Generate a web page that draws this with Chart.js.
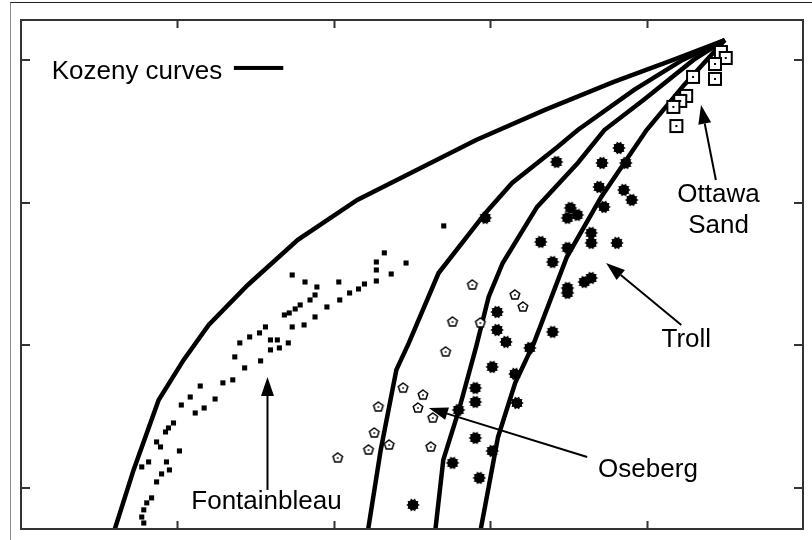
<!DOCTYPE html>
<html>
<head>
<meta charset="utf-8">
<script src="https://cdn.jsdelivr.net/npm/chart.js@4/dist/chart.umd.min.js"></script>
<style>
  html, body { margin: 0; padding: 0; background: #fff; }
  #wrap { position: relative; width: 812px; height: 540px; overflow: hidden; }
  #frame { position: absolute; left: 10px; top: 2px; width: 802px; height: 538px;
           border-left: 1px solid #8a8a8a; border-top: 1px solid #222; box-sizing: border-box; }
  #plot { position: absolute; left: 0; top: 0; }
</style>
</head>
<body>
<div id="wrap">
  <div id="frame"></div>
  <canvas id="plot" width="812" height="540"></canvas>
</div>
<script>
// ─── DATA ───────────────────────────────────────────────
// axis ranges / ticks (ticks only, no labels in the picture)
const xRange = [0, 0.5];
const yRange = [0.713, 4.28];
const xTicks = [0.1, 0.2, 0.3, 0.4];
const yTicks = [1, 2, 3, 4];

// Kozeny curves, [x, y]
const kozeny1 = [[0.060,0.713],[0.072,1.127],[0.088,1.617],[0.104,1.898],[0.120,2.143],[0.145,2.423],
  [0.177,2.739],[0.215,3.019],[0.253,3.229],[0.291,3.439],[0.335,3.650],[0.379,3.846],[0.417,4.000],[0.450,4.140]];
const kozeny2 = [[0.222,0.713],[0.230,1.267],[0.240,1.828],[0.248,2.017],[0.267,2.507],[0.297,2.928],
  [0.314,3.138],[0.343,3.390],[0.356,3.509],[0.392,3.790],[0.423,4.000],[0.450,4.140]];
const kozeny3 = [[0.265,0.713],[0.270,1.197],[0.280,1.547],[0.291,1.989],[0.299,2.339],[0.308,2.577],
  [0.330,2.970],[0.356,3.278],[0.373,3.509],[0.398,3.720],[0.430,4.000],[0.450,4.140]];
const kozeny4 = [[0.294,0.713],[0.305,1.358],[0.316,1.737],[0.328,2.017],[0.349,2.619],[0.371,3.040],
  [0.387,3.299],[0.400,3.509],[0.424,3.825],[0.450,4.140]];

const fontainebleau = [[0.1734,2.493],[0.1816,2.444],[0.1892,2.409],[0.1880,2.353],[0.1848,2.318],[0.1785,2.283],
  [0.1753,2.255],[0.1715,2.227],[0.1684,2.213],[0.2032,2.444],[0.2101,2.367],[0.2158,2.395],[0.2196,2.430],
  [0.2272,2.451],[0.2272,2.528],[0.2272,2.584],[0.2323,2.648],[0.2367,2.500],[0.2462,2.577],[0.2038,2.318],
  [0.1956,2.269],[0.1880,2.199],[0.1810,2.143],[0.1734,2.129],[0.1563,2.129],[0.1525,2.087],[0.1462,2.059],
  [0.1399,2.017],[0.1367,1.919],[0.1430,1.842],[0.1532,1.891],[0.1595,1.968],[0.1595,2.038],[0.1639,2.038],
  [0.1652,1.982],[0.1709,2.017],[0.1291,1.737],[0.1354,1.758],[0.1146,1.715],[0.1082,1.638],[0.1241,1.624],
  [0.1025,1.582],[0.1171,1.561],[0.1114,1.526],[0.0975,1.456],[0.0943,1.421],[0.0924,1.393],[0.0867,1.323],
  [0.0892,1.288],[0.1013,1.260],[0.0816,1.183],[0.0772,1.148],[0.0930,1.183],[0.0949,1.127],[0.0899,1.099],
  [0.0867,1.043],[0.0835,0.931],[0.0804,0.896],[0.0785,0.847],[0.0772,0.797],[0.0785,0.755],[0.2703,2.837]];

const oseberg = [[0.2886,2.423],[0.3158,2.353],[0.3209,2.269],[0.2759,2.164],[0.2937,2.157],[0.2715,1.954],
  [0.2443,1.701],[0.2570,1.652],[0.2285,1.568],[0.2538,1.561],[0.2633,1.491],[0.2259,1.386],[0.2354,1.302],
  [0.2222,1.267],[0.2620,1.288],[0.2025,1.211]];

const troll = [[0.3424,3.285],[0.3823,3.383],[0.3715,3.278],[0.3867,3.278],[0.3696,3.110],[0.3854,3.089],
  [0.3905,3.019],[0.3728,2.970],[0.3513,2.963],[0.3557,2.914],[0.3494,2.893],[0.3646,2.788],[0.3646,2.718],
  [0.3810,2.718],[0.3323,2.725],[0.3494,2.683],[0.3399,2.584],[0.3646,2.472],[0.3601,2.444],[0.3494,2.402],
  [0.3494,2.367],[0.2968,2.893],[0.3044,2.234],[0.3044,2.108],[0.3101,2.024],[0.3399,2.094],[0.3253,1.982],
  [0.3013,1.849],[0.3158,1.800],[0.2905,1.701],[0.2905,1.603],[0.3171,1.596],[0.2797,1.547],[0.2905,1.351],
  [0.3013,1.260],[0.2759,1.176],[0.2930,1.071],[0.2506,0.882]];

const ottawa = [[0.4475,4.056],[0.4506,4.014],[0.4437,3.972],[0.4297,3.881],[0.4437,3.867],[0.4253,3.748],
  [0.4215,3.713],[0.4171,3.671],[0.4190,3.537]];

// annotations: text and arrows (data units)
const noteTexts = [
  ['Kozeny curves', 0.0196, 3.867],
  ['Ottawa', 0.4196, 3.005],
  ['Sand', 0.4266, 2.788],
  ['Troll', 0.4095, 1.989],
  ['Oseberg', 0.3690, 1.078],
  ['Fontainbleau', 0.1089, 0.854]
];
// [tailX, tailY, tipX, tipY]
const noteArrows = [
  [0.1576, 0.987, 0.1576, 1.779],
  [0.4443, 3.159, 0.4348, 3.685],
  [0.4222, 2.143, 0.3741, 2.577],
  [0.3620, 1.218, 0.2608, 1.561]
];
const legendBar = [0.1361, 0.1677, 3.944];

// ─── MARKERS ────────────────────────────────────────────
function makeMark(size, draw) {
    const c = document.createElement('canvas');
    c.width = c.height = size;
    draw(c.getContext('2d'), size / 2);
    return c;
}

const squareMark = makeMark(16, (g, c) => {
    g.fillStyle = '#fff';
    g.fillRect(2, 2, 12, 12);
    g.strokeStyle = '#000';
    g.lineWidth = 2;
    g.strokeRect(2, 2, 12, 12);
    g.fillStyle = '#000';
    g.fillRect(c - 1, c - 1, 2, 2);
});

const pentMark = makeMark(14, (g, c) => {
    g.beginPath();
    for (let i = 0; i < 5; i++) {
        const a = -Math.PI / 2 + i * 2 * Math.PI / 5;
        g.lineTo(c + 5 * Math.cos(a), c + 5 * Math.sin(a));
    }
    g.closePath();
    g.fillStyle = '#fff';
    g.fill();
    g.strokeStyle = '#000';
    g.lineWidth = 1.5;
    g.stroke();
    g.fillStyle = '#000';
    g.fillRect(c - 0.8, c - 0.8, 1.6, 1.6);
});

const blobMark = makeMark(16, (g, c) => {
    g.fillStyle = '#000';
    g.beginPath();
    g.arc(c, c, 5.3, 0, Math.PI * 2);
    g.fill();
    for (let i = 0; i < 10; i++) {
        const a = i * Math.PI / 5;
        g.beginPath();
        g.moveTo(c + 6.8 * Math.cos(a), c + 6.8 * Math.sin(a));
        g.lineTo(c + 4.6 * Math.cos(a + 0.35), c + 4.6 * Math.sin(a + 0.35));
        g.lineTo(c + 4.6 * Math.cos(a - 0.35), c + 4.6 * Math.sin(a - 0.35));
        g.fill();
    }
});

const toPts = arr => arr.map(([x, y]) => ({ x, y }));

// ─── FRAME, TICKS AND NOTES ─────────────────────────────
const frameAndNotes = {
    id: 'frameAndNotes',
    afterDatasetsDraw(chart) {
        const { ctx, chartArea: a, scales: { x, y } } = chart;
        ctx.save();

        // box
        ctx.strokeStyle = '#333';
        ctx.lineWidth = 2;
        ctx.strokeRect(a.left, a.top, a.right - a.left, a.bottom - a.top);

        // inward ticks on all sides
        ctx.beginPath();
        xTicks.forEach(v => {
            const px = Math.round(x.getPixelForValue(v)) + 0.5;
            ctx.moveTo(px, a.bottom); ctx.lineTo(px, a.bottom - 8);
            ctx.moveTo(px, a.top); ctx.lineTo(px, a.top + 8);
        });
        yTicks.forEach(v => {
            const py = Math.round(y.getPixelForValue(v));
            ctx.moveTo(a.left, py); ctx.lineTo(a.left + 9, py);
            ctx.moveTo(a.right, py); ctx.lineTo(a.right - 9, py);
        });
        ctx.stroke();

        // labels
        ctx.fillStyle = '#000';
        ctx.font = '26px "Liberation Sans", Arial, sans-serif';
        ctx.textAlign = 'left';
        ctx.textBaseline = 'alphabetic';
        noteTexts.forEach(([t, vx, vy]) => ctx.fillText(t, x.getPixelForValue(vx), y.getPixelForValue(vy)));

        // legend bar for the curves
        const [bx0, bx1, by] = legendBar;
        ctx.fillRect(x.getPixelForValue(bx0), y.getPixelForValue(by) - 2, x.getPixelForValue(bx1) - x.getPixelForValue(bx0), 4);

        // arrows
        ctx.strokeStyle = '#000';
        ctx.lineWidth = 2;
        noteArrows.forEach(([x0, y0, x1, y1]) => {
            const p0 = [x.getPixelForValue(x0), y.getPixelForValue(y0)];
            const p1 = [x.getPixelForValue(x1), y.getPixelForValue(y1)];
            const ang = Math.atan2(p1[1] - p0[1], p1[0] - p0[0]);
            const len = 19, hw = 6.5;
            const bx = p1[0] - len * Math.cos(ang), byy = p1[1] - len * Math.sin(ang);
            ctx.beginPath();
            ctx.moveTo(p0[0], p0[1]);
            ctx.lineTo(bx, byy);
            ctx.stroke();
            ctx.beginPath();
            ctx.moveTo(p1[0], p1[1]);
            ctx.lineTo(bx + hw * Math.sin(ang), byy - hw * Math.cos(ang));
            ctx.lineTo(bx - hw * Math.sin(ang), byy + hw * Math.cos(ang));
            ctx.closePath();
            ctx.fill();
        });

        ctx.restore();
    }
};

// ─── CHART ──────────────────────────────────────────────
const curveSet = (data) => ({
    data: toPts(data),
    showLine: true,
    pointRadius: 0,
    borderColor: '#000',
    borderWidth: 4.5,
    tension: 0,
    order: 10
});

new Chart(document.getElementById('plot'), {
    type: 'scatter',
    data: {
        datasets: [
            { label: 'Ottawa Sand', data: toPts(ottawa), pointStyle: squareMark, pointRadius: 8, order: 0 },
            { label: 'Oseberg', data: toPts(oseberg), pointStyle: pentMark, pointRadius: 7, order: 1 },
            { label: 'Troll', data: toPts(troll), pointStyle: blobMark, pointRadius: 8, order: 2 },
            { label: 'Fontainbleau', data: toPts(fontainebleau), pointStyle: 'rect', pointRadius: 3.6,
              backgroundColor: '#000', borderColor: '#000', borderWidth: 0, order: 3 },
            curveSet(kozeny1), curveSet(kozeny2), curveSet(kozeny3), curveSet(kozeny4)
        ]
    },
    options: {
        responsive: false,
        animation: false,
        layout: { padding: { left: 21, top: 20, right: 1, bottom: 11 } },
        plugins: { legend: { display: false }, tooltip: { enabled: false } },
        scales: {
            x: { type: 'linear', display: false, min: xRange[0], max: xRange[1] },
            y: { type: 'linear', display: false, min: yRange[0], max: yRange[1] }
        }
    },
    plugins: [frameAndNotes]
});
</script>
</body>
</html>
